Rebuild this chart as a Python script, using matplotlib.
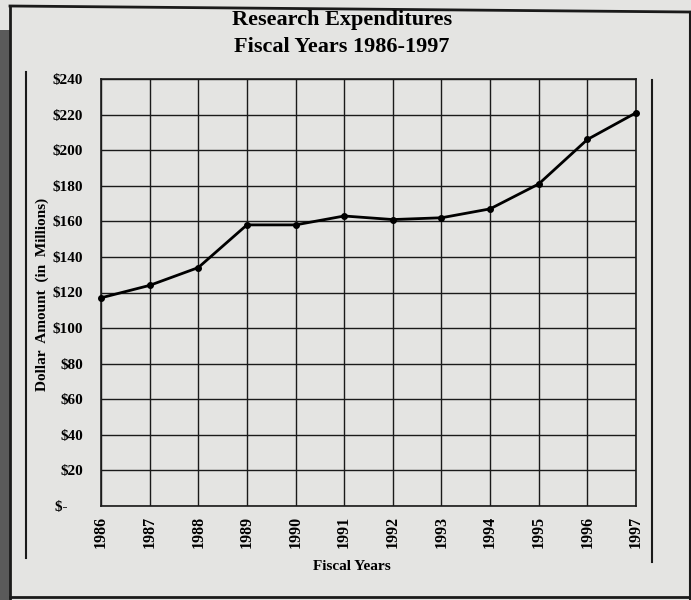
import matplotlib
matplotlib.use('Agg')
import matplotlib.pyplot as plt
from matplotlib.patches import Rectangle
from matplotlib.lines import Line2D

years = [1986, 1987, 1988, 1989, 1990, 1991, 1992, 1993, 1994, 1995, 1996, 1997]
amounts = [117, 124, 134, 158, 158, 163, 161, 162, 167, 181, 206, 221]
y_ticks = [0, 20, 40, 60, 80, 100, 120, 140, 160, 180, 200, 220, 240]
y_labels = ["$-    ", "$20", "$40", "$60", "$80", "$100", "$120", "$140", "$160",
            "$180", "$200", "$220", "$240"]

plt.rcParams['font.family'] = ['Liberation Serif', 'DejaVu Serif']
plt.rcParams['font.weight'] = 'bold'

W, H = 691, 600
fig = plt.figure(figsize=(W / 100, H / 100), dpi=100)
fig.patch.set_facecolor("#e4e4e2")

# scanned page look: dark strip on the left, frame and side rules
fig.patches.append(Rectangle((0, 0), 10 / W, 570 / H, transform=fig.transFigure,
                             facecolor="#5a5a5a", edgecolor="none", hatch="....", zorder=0))
def fline(x0, y0, x1, y1, lw=1.5):
    fig.lines.append(Line2D([x0 / W, x1 / W], [1 - y0 / H, 1 - y1 / H],
                            transform=fig.transFigure, color="#1a1a1a", lw=lw))
fline(10, 6, 690, 12, 2)
fline(10, 6, 10, 600, 2)
fline(690, 12, 690, 600, 1.5)
fline(10, 597, 690, 597, 2)
fline(26, 72, 26, 558, 1.5)
fline(652, 80, 652, 562, 1.5)

ax = fig.add_axes([101 / W, 94 / H, 535 / W, 427 / H])
ax.set_facecolor("#e4e4e2")
ax.plot(years, amounts, color="black", lw=2, marker="o", markersize=4, clip_on=False, zorder=3)

ax.set_xlim(years[0], years[-1])
ax.set_ylim(0, 240)
ax.set_xticks(years)
ax.set_xticklabels([str(y) for y in years], rotation=90, fontsize=11.5, weight='bold')
ax.set_yticks(y_ticks)
ax.set_yticklabels(y_labels, fontsize=11, weight='bold')
ax.tick_params(axis='x', length=0, pad=7)
ax.tick_params(axis='y', length=0, pad=13)
ax.grid(True, color="#1a1a1a", lw=1)
ax.set_axisbelow(True)
for s in ax.spines.values():
    s.set_color("#1a1a1a")
    s.set_linewidth(1.2)

fig.text(42 / W, 1 - 294 / H, "Dollar  Amount  (in  Millions)", rotation=90,
         ha='center', va='center', fontsize=11, weight='bold')
fig.text(352 / W, 1 - 567 / H, "Fiscal Years", ha='center', va='center',
         fontsize=11, weight='bold')

fig.text(342 / W, 1 - 20 / H, "Research Expenditures", ha='center', va='center',
         fontsize=16, weight='bold')
fig.text(342 / W, 1 - 47 / H, "Fiscal Years 1986-1997", ha='center', va='center',
         fontsize=16, weight='bold')

plt.savefig("out.png", dpi=100, facecolor=fig.get_facecolor())
